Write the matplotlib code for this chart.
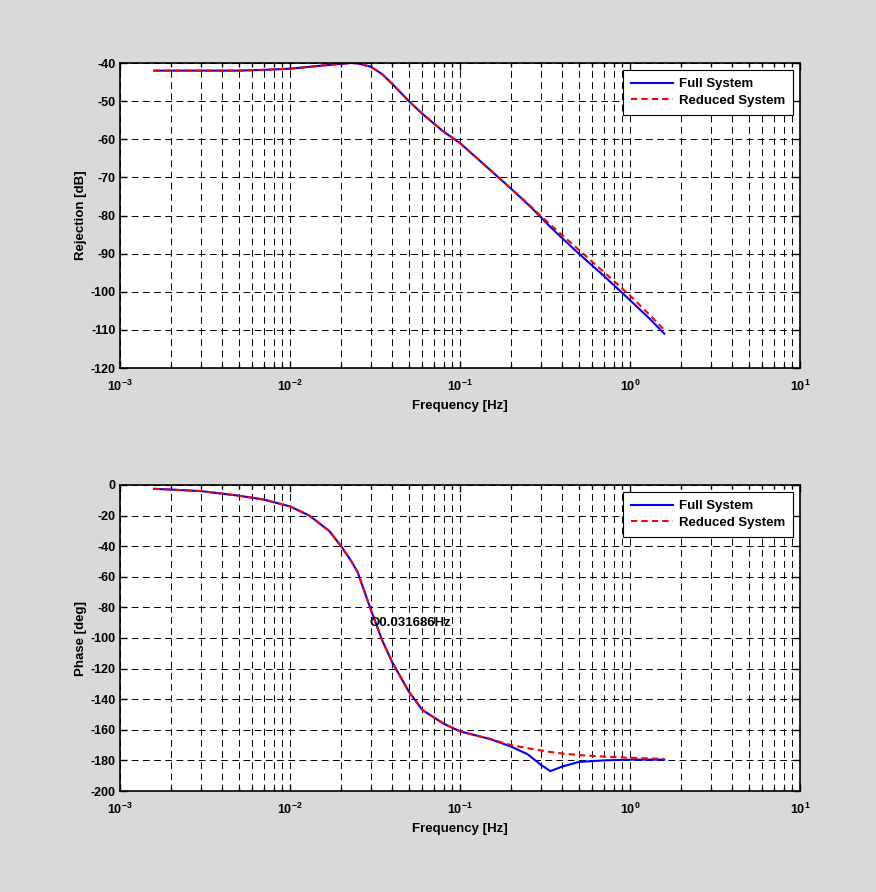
import numpy as np
import matplotlib
matplotlib.use('Agg')
import matplotlib.pyplot as plt
from matplotlib.ticker import LogLocator, NullFormatter, MultipleLocator

plt.rcParams['font.family'] = ['Liberation Sans', 'DejaVu Sans']
plt.rcParams['font.weight'] = 'bold'
plt.rcParams['axes.unicode_minus'] = False
plt.rcParams['mathtext.fontset'] = 'custom'
plt.rcParams['mathtext.rm'] = 'Liberation Sans:bold'
plt.rcParams['mathtext.it'] = 'Liberation Sans:bold'
plt.rcParams['mathtext.bf'] = 'Liberation Sans:bold'

# frequency points [Hz]
freq = [0.00159, 0.002, 0.003, 0.005, 0.007, 0.01, 0.013, 0.017, 0.02, 0.023,
        0.025, 0.03, 0.035, 0.04, 0.05, 0.06, 0.08, 0.1, 0.15, 0.2,
        0.25, 0.3, 0.34, 0.4, 0.5, 0.7, 1.0, 1.3, 1.59]

# rejection [dB]
mag_full = [-42, -42, -42, -42, -41.8, -41.5, -41, -40.5, -40.2, -40,
            -40.1, -41, -43, -45.5, -50, -53.3, -58, -61, -68, -73,
            -77, -80.5, -83, -86, -90, -95.8, -102.2, -107, -111]
mag_red = [-42, -42, -42, -42, -41.8, -41.5, -41, -40.5, -40.2, -40,
           -40.1, -41, -43, -45.5, -50, -53.3, -58, -61, -68, -73,
           -76.8, -80.2, -82.4, -85.2, -89, -94.8, -101, -106, -110]

# phase [deg]
ph_full = [-2.5, -3, -4, -7, -9.5, -14, -20, -30, -40, -50,
           -57, -82, -102, -116, -135, -147, -156, -161, -166, -171,
           -176, -183, -187, -184, -181, -180, -179.5, -179.5, -179.5]
ph_red = [-2.5, -3, -4, -7, -9.5, -14, -20, -30, -40, -50,
          -57, -82, -102, -116, -135, -147, -156, -161, -166, -170,
          -172, -173.5, -174.5, -175.5, -176.5, -177.5, -178.3, -178.7, -179]

mark_f = 0.031686
mark_ph = -90

fig = plt.figure(figsize=(8.76, 8.92), dpi=100)
fig.patch.set_facecolor('#d9d9d9')

W, H = 876., 892.
ax1 = fig.add_axes([120 / W, 1 - 368 / H, 680 / W, 305 / H])
ax2 = fig.add_axes([120 / W, 1 - 791 / H, 680 / W, 306 / H])


def style(ax, ylim, ystep, ylabel):
    ax.set_xscale('log')
    ax.set_xlim(1e-3, 1e1)
    ax.set_ylim(*ylim)
    ax.yaxis.set_major_locator(MultipleLocator(ystep))
    ax.xaxis.set_major_locator(LogLocator(base=10))
    ax.xaxis.set_minor_locator(LogLocator(base=10, subs=np.arange(2, 10)))
    ax.xaxis.set_minor_formatter(NullFormatter())
    ax.set_axisbelow(True)
    ax.grid(True, which='major', color='k', linestyle=(0, (7, 4.5)), linewidth=0.7)
    ax.grid(True, which='minor', axis='x', color='k', linestyle=(0, (7, 4.5)), linewidth=0.7)
    ax.tick_params(which='both', direction='in', top=True, right=True,
                   labelsize=9, width=1)
    ax.tick_params(which='major', length=5)
    ax.tick_params(which='minor', length=3)
    ax.tick_params(axis='y', pad=3)
    ax.tick_params(axis='x', which='major', pad=8)
    for s in ax.spines.values():
        s.set_linewidth(1.2)
    ax.set_xlabel('Frequency [Hz]', fontsize=9.5, fontweight='bold', labelpad=4)
    ax.set_ylabel(ylabel, fontsize=9.5, fontweight='bold', labelpad=2.5)
    for lab in ax.get_yticklabels():
        lab.set_fontweight('bold')


ax1.plot(freq, mag_full, color='b', lw=1.5, label='Full System')
ax1.plot(freq, mag_red, color='r', lw=1.5, linestyle=(0, (3, 2)), label='Reduced System')
style(ax1, (-120, -40), 10, 'Rejection [dB]')

ax2.plot(freq, ph_full, color='b', lw=1.5, label='Full System')
ax2.plot(freq, ph_red, color='r', lw=1.5, linestyle=(0, (3, 2)), label='Reduced System')
ax2.text(mark_f * 0.93, mark_ph, 'O' + '%gHz' % mark_f, fontsize=9.5, fontweight='bold',
         ha='left', va='center')
style(ax2, (-200, 0), 20, 'Phase [deg]')

for ax in (ax1, ax2):
    leg = ax.legend(loc='upper right', fontsize=9.5, frameon=True, fancybox=False,
                    edgecolor='k', framealpha=1, handlelength=3.2, handletextpad=0.4,
                    borderaxespad=0.55, borderpad=0.6, labelspacing=0.3)
    leg.get_frame().set_linewidth(0.8)
    for t in leg.get_texts():
        t.set_fontweight('bold')

fig.savefig('out.png', dpi=100, facecolor=fig.get_facecolor())
